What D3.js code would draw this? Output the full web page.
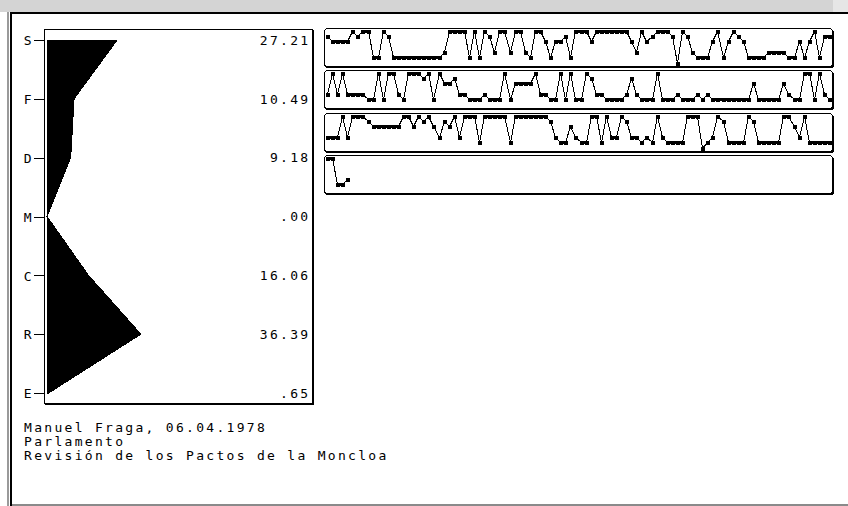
<!DOCTYPE html>
<html>
<head>
<meta charset="utf-8">
<script src="https://cdn.jsdelivr.net/npm/d3@7"></script>
<style>
  body { margin: 0; background: #fff; }
  .mono { font-family: "DejaVu Sans Mono", monospace; font-size: 13px; letter-spacing: 2.3px; fill: #000; }
</style>
</head>
<body>
<div id="chart"></div>
<script>
/************************************************************/
/************************** DATA ****************************/
/************************************************************/

var categories = ["S", "F", "D", "M", "C", "R", "E"];
var shares = [27.21, 10.49, 9.18, 0, 16.06, 36.39, 0.65];
var shareLabels = ["27.21", "10.49", "9.18", ".00", "16.06", "36.39", ".65"];

var captionLines = [
  "Manuel Fraga, 06.04.1978",
  "Parlamento",
  "Revisión de los Pactos de la Moncloa"
];

// category index (0 = S ... 6 = E) per step, wrapped over four strips
var row1 = [1,2,2,2,2,0,1,0,0,5, 5,0,1,5,5,5,5,5,5,5, 5,5,5,4,0,0,0,0,5,0, 5,0,1,4,0,0,4,0,0,4,
            5,0,0,2,5,2,2,1,5,0, 0,0,2,0,0,0,0,0,0,0, 2,4,0,2,1,0,0,0,1,6, 0,1,4,5,5,5,2,0,5,2,
            0,1,2,5,5,5,5,4,4,4, 4,5,5,2,5,2,0,5,1,1];
var row2 = [4,0,4,0,4,4,4,4,5,5, 0,5,0,0,4,5,0,0,0,1, 0,5,0,2,2,1,4,4,5,5, 5,4,5,5,5,0,5,2,2,2,
            2,0,4,4,5,5,0,5,0,5, 5,0,1,4,4,5,5,5,5,4, 1,4,5,5,5,0,5,5,5,4, 5,5,5,4,5,4,5,5,5,5,
            5,5,5,5,2,5,5,5,5,5, 2,4,5,5,0,0,5,0,4,5];
var row3 = [4,4,4,0,4,0,0,0,1,2, 2,2,2,2,2,0,0,2,0,1, 0,2,4,1,2,0,4,0,0,0, 5,0,0,0,0,0,5,0,0,0,
            0,0,0,0,1,4,5,5,2,4, 5,5,0,0,5,0,4,4,0,1, 4,4,5,4,5,0,4,5,5,5, 5,0,0,0,6,5,4,0,1,5,
            5,5,5,0,1,5,5,5,5,5, 0,0,2,4,0,5,5,5,5,5];
var row4 = [0,0,5,5,4];

var rows = [row1, row2, row3, row4];

/************************************************************/
/************************** RENDER **************************/
/************************************************************/

var width = 848, height = 506;

var svg = d3.select("#chart").append("svg")
    .attr("width", width)
    .attr("height", height)
    .attr("shape-rendering", "crispEdges");

// window frame
svg.append("rect").attr("x", 0).attr("y", 0).attr("width", width).attr("height", 12).attr("fill", "#d4d4d4");
svg.append("rect").attr("x", 833).attr("y", 0).attr("width", width - 833).attr("height", 12).attr("fill", "#e6e6e6");
svg.append("rect").attr("x", 7).attr("y", 12).attr("width", 2).attr("height", height - 12).attr("fill", "#9a9a9a");
svg.append("rect").attr("x", 10).attr("y", 12).attr("width", width - 10).attr("height", 2).attr("fill", "#000");
svg.append("rect").attr("x", 10).attr("y", 12).attr("width", 2).attr("height", height - 12).attr("fill", "#000");
svg.append("rect").attr("x", 12).attr("y", 504).attr("width", width - 12).attr("height", 2).attr("fill", "#8a8a8a");

/// profile panel

var y = d3.scalePoint().domain(categories).range([40, 393]);
var x = d3.scaleLinear().domain([0, 100]).range([47, 305]);

var panel = svg.append("g");

// shadow + frame
panel.append("rect")
    .attr("x", 45.5).attr("y", 30.5).attr("width", 268).attr("height", 374)
    .attr("fill", "none").attr("stroke", "#000");
panel.append("rect")
    .attr("x", 44.5).attr("y", 29.5).attr("width", 268).attr("height", 374)
    .attr("fill", "#fff").attr("stroke", "#000");

var profile = categories.map(function(c, i) { return { cat: c, value: shares[i] }; });

var area = d3.area()
    .x0(x(0))
    .x1(function(d) { return x(d.value); })
    .y(function(d) { return y(d.cat); });

panel.append("path")
    .datum(profile)
    .attr("d", area)
    .attr("fill", "#000")
    .attr("stroke", "#000")
    .attr("stroke-width", 1);

var axis = panel.append("g")
    .attr("transform", "translate(44.5,0)")
    .call(d3.axisLeft(y).tickSize(11).tickPadding(2));
axis.select(".domain").remove();
axis.selectAll("line").attr("stroke", "#000");
axis.selectAll("text")
    .attr("class", "mono")
    .attr("dy", "0.36em")
    .style("letter-spacing", "0px")
    .attr("font-family", null).attr("font-size", null);
axis.attr("font-family", null).attr("font-size", null);

panel.selectAll(".shareLabel")
    .data(profile)
    .enter().append("text")
      .attr("class", "shareLabel mono")
      .attr("x", 310.5)
      .attr("y", function(d) { return y(d.cat); })
      .attr("dy", "0.36em")
      .style("text-anchor", "end")
      .text(function(d, i) { return shareLabels[i]; });

/// caption

svg.selectAll(".caption")
    .data(captionLines)
    .enter().append("text")
      .attr("class", "caption mono")
      .attr("x", 24)
      .attr("y", function(d, i) { return 432 + i * 14; })
      .text(function(d) { return d; });

/// sequence strips

var stripLeft = 324, stripRight = 832, stripHeight = 38;
var xs = d3.scaleLinear().domain([0, 99]).range([327, 829]);
var ys = d3.scaleLinear().domain([0, 6]).range([2.5, 34.5]);

var strips = svg.selectAll(".strip")
    .data(rows)
    .enter().append("g")
      .attr("class", "strip")
      .attr("transform", function(d, r) { return "translate(0," + Math.round(28 + r * 42.4) + ")"; });

strips.append("rect")
    .attr("x", stripLeft + 1.5).attr("y", 1.5)
    .attr("width", stripRight - stripLeft).attr("height", stripHeight)
    .attr("rx", 3).attr("ry", 3)
    .attr("fill", "none").attr("stroke", "#000");
strips.append("rect")
    .attr("x", stripLeft + 0.5).attr("y", 0.5)
    .attr("width", stripRight - stripLeft).attr("height", stripHeight)
    .attr("rx", 3).attr("ry", 3)
    .attr("fill", "#fff").attr("stroke", "#000");

var px = function(i) { return Math.round(xs(i)); };
var py = function(v) { return Math.round(ys(v)); };

var line = d3.line()
    .x(function(d, i) { return px(i) + 0.5; })
    .y(function(d) { return py(d) + 0.5; });

strips.append("path")
    .attr("d", function(d) { return line(d); })
    .attr("fill", "none")
    .attr("stroke", "#000")
    .attr("stroke-width", 1);

strips.each(function(d) {
  var g = d3.select(this);

  // runs of the same category read as a solid bar
  var runs = d.slice(1).map(function(v, i) { return { i: i, v: v, same: v === d[i] }; })
      .filter(function(r) { return r.same; });
  g.selectAll(".run")
      .data(runs)
      .enter().append("rect")
        .attr("class", "run")
        .attr("x", function(r) { return px(r.i) - 1; })
        .attr("y", function(r) { return py(r.v) - 1; })
        .attr("width", function(r) { return px(r.i + 1) - px(r.i) + 3; })
        .attr("height", 3)
        .attr("fill", "#000");

  g.selectAll(".pt")
      .data(d)
      .enter().append("rect")
        .attr("class", "pt")
        .attr("x", function(v, i) { return px(i) - 1.5; })
        .attr("y", function(v) { return py(v) - 1.5; })
        .attr("width", 4)
        .attr("height", 4)
        .attr("fill", "#000");
});
</script>
</body>
</html>
